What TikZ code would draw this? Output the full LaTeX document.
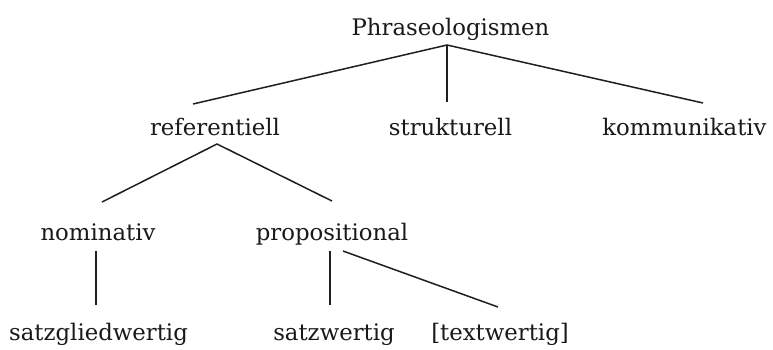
\documentclass[tikz,border=0pt]{standalone}
\usepackage{fontspec}
\setmainfont{DejaVu Serif}
\begin{document}
\begin{tikzpicture}[x=1pt,y=-1pt,
  lbl/.style={anchor=base,inner sep=0pt,text=black!90,font=\fontsize{22.8}{25}\selectfont},
  edge/.style={draw=black!88,line width=1.5pt}]
\useasboundingbox[fill=white] (0,0) rectangle (773,349);
% labels
\node[lbl] (P)    at (450.5,35) {Phraseologismen};
\node[lbl] (ref)  at (215,135)  {referentiell};
\node[lbl] (str)  at (450.5,135) {strukturell};
\node[lbl] (kom)  at (684.5,135) {kommunikativ};
\node[lbl] (nom)  at (98,240)   {nominativ};
\node[lbl] (prop) at (332,240)  {propositional};
\node[lbl] (sg)   at (98.5,340) {satzgliedwertig};
\node[lbl] (sw)   at (334,340)  {satzwertig};
\node[lbl] (tw)   at (500,340)  {[textwertig]};
% junction and end points
\coordinate (Pj)   at (447,45);
\coordinate (refT) at (193,104);
\coordinate (strT) at (447,102);
\coordinate (komT) at (703,103);
\coordinate (refj) at (217,144);
\coordinate (nomT) at (102,202);
\coordinate (propT) at (332,201);
\coordinate (nomB) at (96,251);
\coordinate (sgT)  at (96,305);
\coordinate (propB) at (330,251);
\coordinate (swT)  at (330,305);
\coordinate (propD) at (343,251);
\coordinate (twT)  at (498,307);
% connectors
\draw[edge] (refT) -- (Pj) -- (komT);
\draw[edge] (Pj) -- (strT);
\draw[edge] (nomT) -- (refj) -- (propT);
\draw[edge] (nomB) -- (sgT);
\draw[edge] (propB) -- (swT);
\draw[edge] (propD) -- (twT);
\end{tikzpicture}
\end{document}
